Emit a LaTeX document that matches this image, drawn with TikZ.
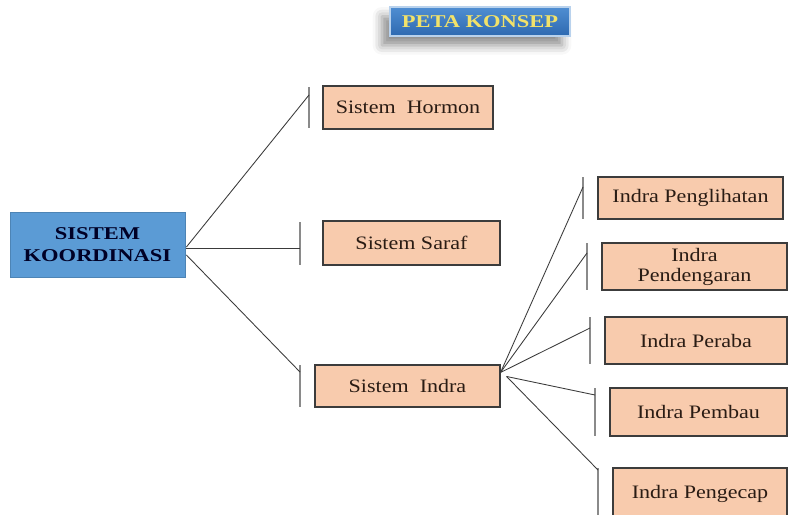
\documentclass[tikz,border=0pt]{standalone}
\usepackage{fontspec}
\setmainfont{Liberation Serif}[FakeStretch=1.16, BoldFeatures={FakeStretch=1.25}]
\usetikzlibrary{calc,shadows.blur}
\definecolor{peach}{HTML}{F8CBAD}
\definecolor{koordblue}{HTML}{5B9BD5}
\definecolor{titletop}{HTML}{4F8ED2}
\definecolor{titlebot}{HTML}{2E69B0}
\definecolor{titletext}{HTML}{F2E26A}
\definecolor{boxedge}{HTML}{3C3C3C}
\definecolor{txt}{HTML}{2A1C14}
\definecolor{brk}{HTML}{8A8A8A}
\definecolor{con}{HTML}{3A3A3A}
\tikzset{
  leaf/.style={draw=boxedge, line width=0.8pt, fill=peach, text=txt, inner sep=0pt,
    align=center, font=\fontsize{14.25}{15}\selectfont},
  rootbox/.style={draw=koordblue!85!black, line width=0.6pt, fill=koordblue, text=black!85!blue,
    inner sep=0pt, align=center, font=\fontsize{13.5}{16.5}\selectfont\bfseries},
  titlebox/.style={draw=white!60!titletop, line width=0.8pt, top color=titletop, bottom color=titlebot,
    text=titletext, inner sep=0pt, font=\fontsize{13.5}{16}\selectfont\bfseries,
    blur shadow={shadow xshift=-6pt, shadow yshift=-7pt, shadow blur radius=7pt, shadow opacity=45}},
  bracketline/.style={draw=brk, line width=1.3pt},
  conline/.style={draw=con, line width=0.65pt},
}
\begin{document}
\begin{tikzpicture}[x=0.75pt, y=-0.75pt]
\useasboundingbox (0,0) rectangle (788,514);
\begin{scope}
\clip (0,0) rectangle (788,514);
% title
\node[titlebox, minimum width=135pt, minimum height=21.75pt] (title) at (480,21.5) {PETA KONSEP};
% root
\node[rootbox, minimum width=131.25pt, minimum height=48.75pt] (koord) at (97.5,244.5) {SISTEM\\KOORDINASI};
% level 1
\node[leaf, minimum width=127.5pt, minimum height=32.25pt] (hormon) at (408,107.5) {Sistem\ \ Hormon};
\node[leaf, minimum width=132.75pt, minimum height=33pt] (saraf) at (411.5,243) {Sistem Saraf};
\node[leaf, minimum width=138.75pt, minimum height=31.5pt] (indra) at (407.5,386) {Sistem\ \ Indra};
% level 2
\node[leaf, minimum width=138.75pt, minimum height=31.5pt] (lihat) at (690.5,198) {Indra Penglihatan};
\node[leaf, minimum width=138.75pt, minimum height=35.25pt, font=\fontsize{14.25}{15}\selectfont] (dengar) at (694.5,266.5) {Indra\\Pendengaran};
\node[leaf, minimum width=136.5pt, minimum height=35.25pt] (raba) at (696,340.5) {Indra Peraba};
\node[leaf, minimum width=132.75pt, minimum height=36pt] (pembau) at (698.5,412) {Indra Pembau};
\node[leaf, minimum width=130.5pt, minimum height=39pt] (pengecap) at (700,494) {Indra Pengecap};

% brackets
\coordinate (bh1) at (309,87);  \coordinate (bh2) at (309,128); \coordinate (ch) at (309,95);
\coordinate (bs1) at (300,222); \coordinate (bs2) at (300,265); \coordinate (cs) at (300,248);
\coordinate (bi1) at (300,365); \coordinate (bi2) at (300,407); \coordinate (ci) at (300,372);
\coordinate (bl1) at (583,177); \coordinate (bl2) at (583,219); \coordinate (cl) at (583,187);
\coordinate (bd1) at (587,243); \coordinate (bd2) at (587,290); \coordinate (cd) at (587,253);
\coordinate (br1) at (590,317); \coordinate (br2) at (590,364); \coordinate (cr) at (590,328);
\coordinate (bp1) at (595,388); \coordinate (bp2) at (595,436); \coordinate (cp) at (595,395);
\coordinate (bc1) at (598,468); \coordinate (bc2) at (598,520); \coordinate (cc) at (598,470);
\foreach \a/\b in {bh1/bh2,bs1/bs2,bi1/bi2,bl1/bl2,bd1/bd2,br1/br2,bp1/bp2,bc1/bc2}
  \draw[bracketline] (\a) -- (\b);

% connectors
\draw[conline] ($(koord.east)+(1,2.5)$) -- (ch);
\draw[conline] ($(koord.east)+(1,3.5)$) -- (cs);
\draw[conline] ($(koord.east)+(1,10.5)$) -- (ci);
\coordinate (io) at ($(indra.north east)+(0,8)$);
\coordinate (iu) at ($(indra.north east)+(6,12)$);
\draw[conline] (io) -- (cl);
\draw[conline] (io) -- (cd);
\draw[conline] (io) -- (cr);
\draw[conline] (iu) -- (cp);
\draw[conline] (iu) -- (cc);
\end{scope}
\end{tikzpicture}
\end{document}
